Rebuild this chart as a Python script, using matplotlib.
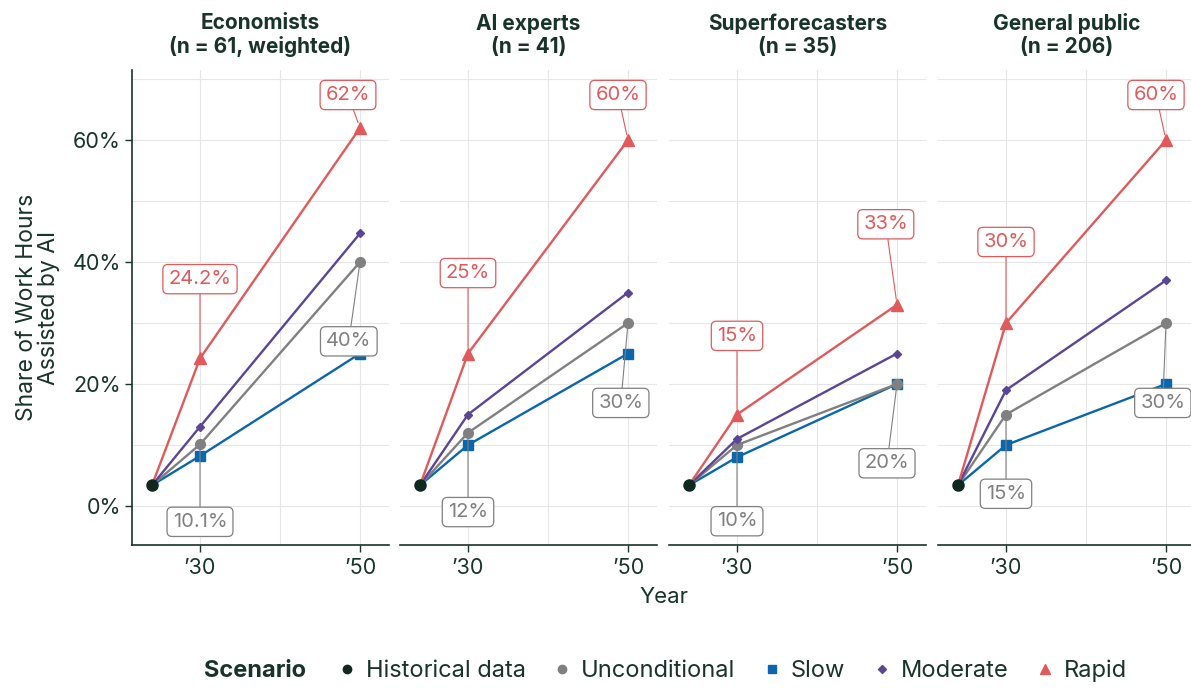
import matplotlib
matplotlib.use("Agg")
import matplotlib.pyplot as plt
from matplotlib.lines import Line2D

plt.rcParams['font.family'] = ['Inter', 'DejaVu Sans']

# ---------------- data ----------------
panels = ["Economists\n(n = 61, weighted)", "AI experts\n(n = 41)",
          "Superforecasters\n(n = 35)", "General public\n(n = 206)"]
hist_year = 2024
hist_value = 3.4
years = [2030, 2050]
unconditional = [[10.1, 40], [12, 30], [10, 20], [15, 30]]
slow = [[8.2, 25], [10, 25], [8, 20], [10, 20]]
moderate = [[13, 44.7], [15, 35], [11, 25], [19, 37]]
rapid = [[24.2, 62], [25, 60], [15, 33], [30, 60]]
rapid_labels = [["24.2%", "62%"], ["25%", "60%"], ["15%", "33%"], ["30%", "60%"]]
uncond_labels = [["10.1%", "40%"], ["12%", "30%"], ["10%", "20%"], ["15%", "30%"]]
xtick_labels = ["\u201930", "\u201950"]
yticks = [0, 20, 40, 60]
ytick_labels = ["0%", "20%", "40%", "60%"]

# label placement (data coords) for annotation boxes
rapid_pos = [[(2030, 37.2), (2048.5, 67.4)], [(2030, 38.2), (2048.75, 67.4)],
             [(2030, 27.9), (2048.6, 46.2)], [(2030, 43.3), (2048.75, 67.4)]]
uncond_pos = [[(2030, -2.6), (2048.6, 27.0)], [(2030, -1.0), (2049.1, 16.9)],
              [(2030, -2.5), (2048.75, 7.0)], [(2030, 2.0), (2049.6, 16.9)]]

# ---------------- style ----------------
C_HIST = "#10291f"
C_UNC = "#808080"
C_SLOW = "#0b66ab"
C_MOD = "#5a4596"
C_RAP = "#e05a5c"
TXT = "#18342a"
GRID = "#e6e6e6"

W, H = 1191, 688
fig = plt.figure(figsize=(W / 100, H / 100), dpi=100)

lefts = [132, 400, 669, 938]
pw = 257
ybot, ytop = 545, 70

for i in range(4):
    ax = fig.add_axes([lefts[i] / W, (H - ybot) / H, pw / W, (ybot - ytop) / H])
    ax.set_xlim(2021.5, 2021.5 + pw / 8)
    ax.set_ylim(-6.4, 71.5)
    for y in range(0, 71, 10):
        ax.axhline(y, color=GRID, lw=0.8, zorder=0)
    for x in (2030, 2040, 2050):
        ax.axvline(x, color=GRID, lw=0.8, zorder=0)

    xs = [hist_year] + years
    ax.plot(xs, [hist_value] + slow[i], color=C_SLOW, lw=1.7, marker="s", ms=7,
            markevery=[1, 2], zorder=3)
    ax.plot(xs, [hist_value] + unconditional[i], color=C_UNC, lw=1.7, marker="o", ms=7,
            markevery=[1, 2], zorder=4)
    ax.plot(xs, [hist_value] + moderate[i], color=C_MOD, lw=1.7, marker="D", ms=4.5,
            markevery=[1, 2], zorder=5)
    ax.plot(xs, [hist_value] + rapid[i], color=C_RAP, lw=1.7, marker="^", ms=9,
            markevery=[1, 2], zorder=6)
    ax.plot([hist_year], [hist_value], "o", color=C_HIST, ms=8, zorder=7)

    for j in range(2):
        for vals, labs, pos, col in ((rapid[i], rapid_labels[i], rapid_pos[i], C_RAP),
                                     (unconditional[i], uncond_labels[i], uncond_pos[i], C_UNC)):
            ax.annotate(labs[j], xy=(years[j], vals[j]), xytext=pos[j],
                        ha="center", va="center", fontsize=14.5, color=col,
                        bbox=dict(boxstyle="round,pad=0.28,rounding_size=0.25",
                                  fc="white", ec=col, lw=0.9),
                        arrowprops=dict(arrowstyle="-", color=col, lw=0.8,
                                        shrinkA=0, shrinkB=4),
                        zorder=8)

    ax.set_xticks(years)
    ax.set_xticklabels(xtick_labels)
    ax.set_yticks(yticks)
    ax.set_yticklabels(ytick_labels)
    ax.tick_params(axis="both", labelsize=15.5, colors=TXT, length=5, width=1)
    ax.tick_params(axis="x", pad=4)
    ax.tick_params(axis="y", pad=3)
    for s in ("top", "right"):
        ax.spines[s].set_visible(False)
    ax.spines["bottom"].set_color(TXT)
    ax.spines["bottom"].set_linewidth(1.2)
    if i == 0:
        ax.spines["left"].set_color(TXT)
        ax.spines["left"].set_linewidth(1.2)
        ax.set_ylabel("Share of Work Hours\nAssisted by AI", fontsize=16.5,
                      color=TXT, labelpad=9, linespacing=1.0)
    else:
        ax.spines["left"].set_visible(False)
        ax.tick_params(axis="y", left=False, labelleft=False)
    ax.set_title(panels[i], fontsize=15, fontweight="bold", color=TXT,
                 linespacing=1.2, pad=12)

fig.text(664 / W, 1 - 597 / H, "Year", ha="center", va="center", fontsize=16, color=TXT)

# legend
fig.text(255 / W, 1 - 671 / H, "Scenario", ha="center", va="center", fontsize=17,
         fontweight="bold", color=TXT)
handles = [
    Line2D([], [], ls="none", marker="o", color=C_HIST, ms=6),
    Line2D([], [], ls="none", marker="o", color=C_UNC, ms=6),
    Line2D([], [], ls="none", marker="s", color=C_SLOW, ms=6),
    Line2D([], [], ls="none", marker="D", color=C_MOD, ms=4.5),
    Line2D([], [], ls="none", marker="^", color=C_RAP, ms=7),
]
names = ["Historical data", "Unconditional", "Slow", "Moderate", "Rapid"]
leg = fig.legend(handles, names, loc="center", bbox_to_anchor=(733 / W, 1 - 671 / H),
                 ncol=5, frameon=False, fontsize=17, handlelength=0.7,
                 handletextpad=0.45, columnspacing=1.2)
for t in leg.get_texts():
    t.set_color(TXT)

fig.savefig("out.png", dpi=100)
